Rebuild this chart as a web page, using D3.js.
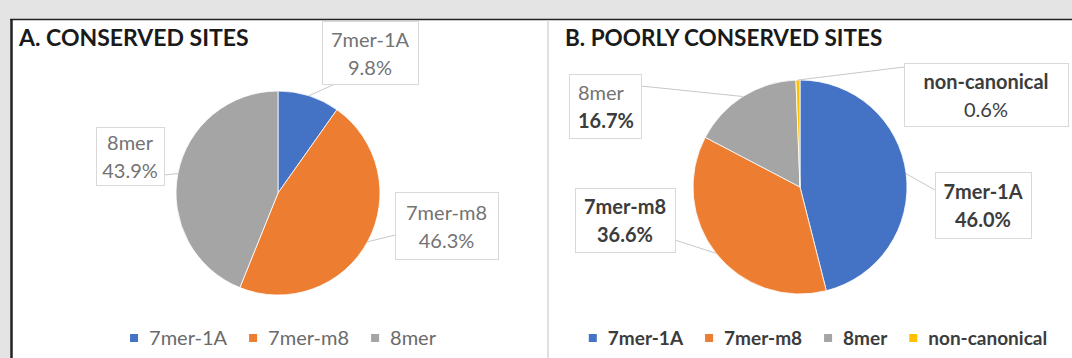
<!DOCTYPE html>
<html>
<head>
<meta charset="utf-8">
<script src="https://cdn.jsdelivr.net/npm/d3@7"></script>
<style>
  html, body { margin: 0; padding: 0; background: #fff; overflow: hidden; }
  svg { display: block; font-family: Lato, "Open Sans", sans-serif; }
</style>
</head>
<body>
<div id="chart"></div>
<script>
// data
const titles = ['A. CONSERVED SITES', 'B. POORLY CONSERVED SITES'];
const categoriesA = ['7mer-1A', '7mer-m8', '8mer'];
const valuesA = [9.8, 46.3, 43.9];
const categoriesB = ['7mer-1A', '7mer-m8', '8mer', 'non-canonical'];
const valuesB = [46.0, 36.6, 16.7, 0.6];

const width = 1072;
const height = 358;

const color = d3.scaleOrdinal()
  .domain(categoriesB)
  .range(['#4472c4', '#ed7d31', '#a5a5a5', '#ffc000']);

// layout of the two panels; ax/ay = where the leader meets the box
const panels = [
  {
    title: titles[0], cats: categoriesA, vals: valuesA,
    cx: 278, cy: 193, r: 102, titleX: 19, titleSize: 23, legendCx: 283, legendSize: 20,
    labelColor: '#737373', legendColor: '#6a6a6a', bold: false,
    boxes: {
      '7mer-1A': {x: 322, y: 21, w: 96, h: 63, ax: 13, ay: 63},
      '7mer-m8': {x: 395, y: 192, w: 103, h: 67, ax: 0, ay: 43},
      '8mer': {x: 96, y: 127, w: 68, h: 58, ax: 68, ay: 48}
    }
  },
  {
    title: titles[1], cats: categoriesB, vals: valuesB,
    cx: 800, cy: 187, r: 107, titleX: 565, titleSize: 22.5, legendCx: 818, legendSize: 19,
    labelColor: '#3c3c3c', legendColor: '#3c3c3c', bold: true,
    boxes: {
      '7mer-1A': {x: 935, y: 172, w: 96, h: 66, ax: 0, ay: 18},
      '7mer-m8': {x: 575, y: 188, w: 100, h: 64, ax: 100, ay: 52},
      '8mer': {x: 569, y: 74, w: 72, h: 64, ax: 72, ay: 12, align: 'left'},
      'non-canonical': {x: 904, y: 63, w: 164, h: 63, ax: 0, ay: 4}
    }
  }
];

const svg = d3.select('#chart').append('svg')
  .attr('width', width)
  .attr('height', height);

// page background and frame
svg.append('rect').attr('width', width).attr('height', height).attr('fill', '#e4e4e4');
svg.append('rect').attr('x', 12).attr('y', 19).attr('width', width - 12).attr('height', height - 19).attr('fill', '#fff');
svg.append('line').attr('x1', 10).attr('x2', width).attr('y1', 19.5).attr('y2', 19.5)
  .attr('stroke', '#222').attr('stroke-width', 1.5);
svg.append('line').attr('x1', 11.5).attr('x2', 11.5).attr('y1', 19).attr('y2', height)
  .attr('stroke', '#222').attr('stroke-width', 2.5);
svg.append('line').attr('x1', 548).attr('x2', 548).attr('y1', 20).attr('y2', height)
  .attr('stroke', '#d6d6d6').attr('stroke-width', 1.5);

const pie = d3.pie().sort(null).value(d => d);

panels.forEach((p, pi) => {
  const g = svg.append('g');
  const arcs = pie(p.vals);
  const arc = d3.arc().innerRadius(0).outerRadius(p.r);

  g.append('text')
    .attr('x', p.titleX).attr('y', 46)
    .attr('font-size', p.titleSize).attr('font-weight', 'bold').attr('fill', '#1a1a1a')
    .text(p.title);

  g.append('g').attr('transform', `translate(${p.cx},${p.cy})`)
    .selectAll('path')
    .data(arcs)
    .enter().append('path')
    .attr('d', arc)
    .attr('fill', (d, i) => color(p.cats[i]))
    .attr('stroke', '#fff')
    .attr('stroke-width', 0.8);

  // callout leaders and boxes
  arcs.forEach((d, i) => {
    const cat = p.cats[i];
    const b = p.boxes[cat];
    const mid = (d.startAngle + d.endAngle) / 2;
    const px = p.cx + p.r * Math.sin(mid);
    const py = p.cy - p.r * Math.cos(mid);
    g.append('line')
      .attr('x1', px).attr('y1', py).attr('x2', b.x + b.ax).attr('y2', b.y + b.ay)
      .attr('stroke', '#c8c8c8').attr('stroke-width', 1);
    g.append('rect')
      .attr('x', b.x + 0.5).attr('y', b.y + 0.5).attr('width', b.w).attr('height', b.h)
      .attr('fill', '#fff').attr('stroke', '#d9d9d9').attr('stroke-width', 1);

    const left = b.align === 'left';
    const tx = left ? b.x + 9 : b.x + b.w / 2;
    const anchor = left ? 'start' : 'middle';
    const pct = d3.format('.1f')(p.vals[i]) + '%';
    let w1 = p.bold ? 'bold' : 'normal';
    let c1 = p.labelColor;
    let w2 = w1;
    if (pi === 1 && cat === '8mer') { w1 = 'normal'; c1 = '#737373'; }
    if (pi === 1 && cat === 'non-canonical') { w2 = 'normal'; }
    g.append('text')
      .attr('x', tx).attr('y', b.y + b.h / 2 - 6)
      .attr('text-anchor', anchor).attr('font-size', 20)
      .attr('font-weight', w1).attr('fill', c1)
      .text(cat);
    g.append('text')
      .attr('x', tx).attr('y', b.y + b.h / 2 + 22)
      .attr('text-anchor', anchor).attr('font-size', 20)
      .attr('font-weight', w2).attr('fill', p.labelColor)
      .text(pct);
  });

  // legend, centred under the pie
  const leg = g.append('g');
  let x = 0;
  p.cats.forEach(cat => {
    leg.append('rect').attr('x', x).attr('y', 334).attr('width', 8).attr('height', 8)
      .attr('fill', color(cat));
    const t = leg.append('text')
      .attr('x', x + 19).attr('y', 345)
      .attr('font-size', p.legendSize).attr('font-weight', p.bold ? 'bold' : 'normal')
      .attr('fill', p.legendColor)
      .text(cat);
    x += 19 + t.node().getComputedTextLength() + 22;
  });
  const total = x - 22;
  leg.attr('transform', `translate(${p.legendCx - total / 2},0)`);
});
</script>
</body>
</html>
